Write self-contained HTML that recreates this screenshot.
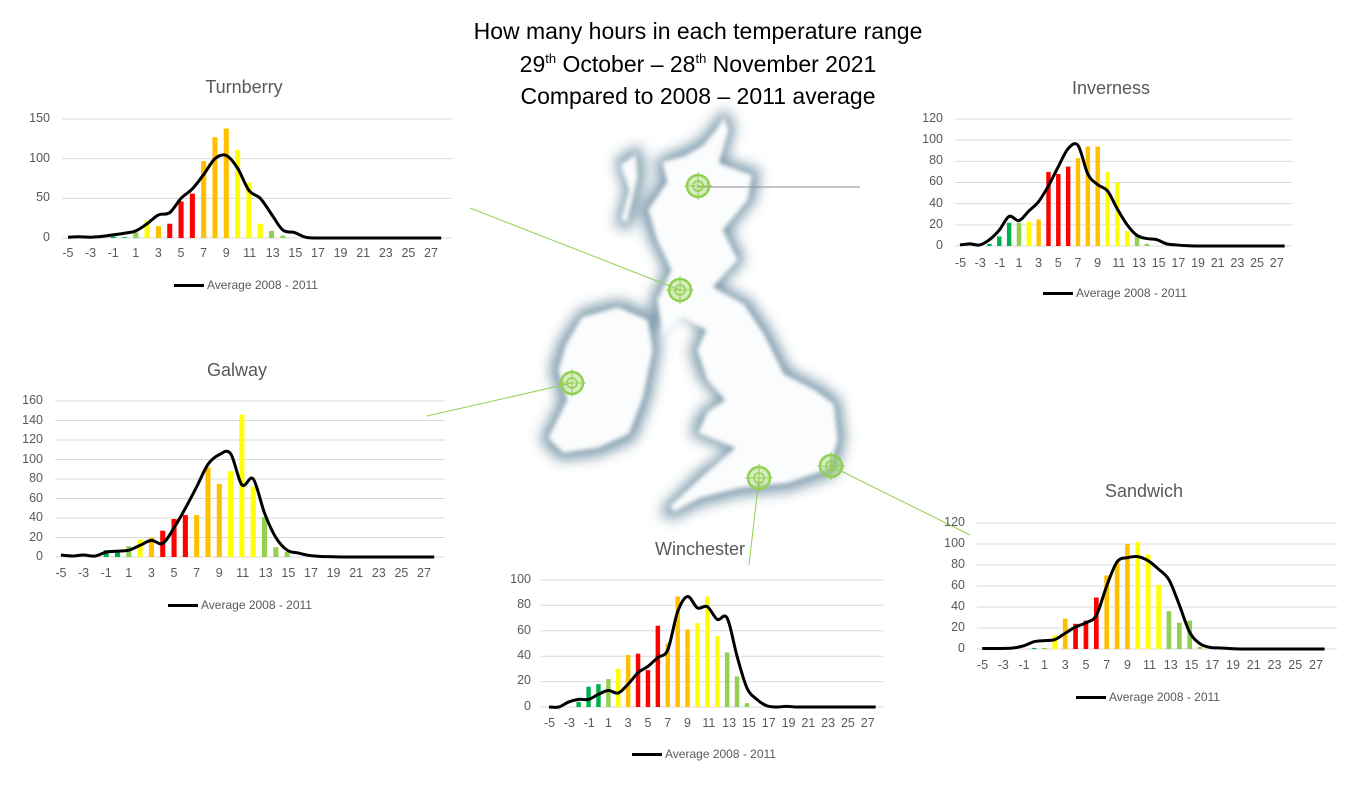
<!DOCTYPE html>
<html><head><meta charset="utf-8"><style>
body{margin:0;width:1356px;height:790px;background:#fff;position:relative;overflow:hidden;font-family:"Liberation Sans",sans-serif;}
.t{position:absolute;color:#000;font-size:23px;text-align:center;width:600px;left:398px;line-height:32.5px;top:15px}
.t sup{font-size:13px;line-height:0;vertical-align:9px}
.ct{position:absolute;color:#595959;font-size:18px;transform:translateX(-50%);white-space:nowrap}
.xr{position:absolute;display:flex;font-size:12.5px;color:#595959}
.xr span{box-sizing:border-box;width:calc(var(--w)*2);padding-right:var(--w);text-align:center;white-space:nowrap}
.yl{position:absolute;font-size:12.5px;color:#595959;text-align:right;width:40px}
.lg{position:absolute;font-size:12px;color:#595959;white-space:nowrap;transform:translateX(-50%)}
.lg i{display:inline-block;width:30px;height:3px;background:#000;vertical-align:middle;margin-right:3px}
svg{position:absolute;left:0;top:0}
</style></head><body>
<svg id="s" width="1356" height="790">
<defs><filter id="bl" x="-20%" y="-20%" width="140%" height="140%"><feGaussianBlur stdDeviation="7"/></filter>
<filter id="bl2"><feGaussianBlur stdDeviation="2"/></filter></defs>
<g id="map">
<g filter="url(#bl)" fill="#5d8196" opacity="0.85">
<path id="gb" d="M700,140 L712,125 L725,108 L735,128 L725,160 L760,170 L755,200 L730,230 L745,260 L720,285 L750,300 L770,330 L790,370 L820,385 L840,400 L845,440 L835,475 L790,490 L740,495 L700,505 L670,520 L660,510 L700,470 L730,450 L690,435 L700,410 L720,400 L700,380 L690,350 L700,330 L680,310 L660,330 L650,300 L665,270 L650,240 L640,210 L660,180 L655,160 L680,150Z"/>
<path id="ir" d="M580,310 L620,300 L655,315 L660,350 L650,400 L635,440 L600,455 L560,460 L540,440 L560,400 L550,370 L560,340Z"/>
<path id="hb" d="M615,160 L640,145 L645,175 L630,230 L615,225 L625,190Z"/>
</g>
<g fill="#fafcfd" filter="url(#bl2)">
<path d="M702,146 L714,132 L724,118 L729,130 L719,163 L752,175 L748,200 L723,230 L738,260 L713,287 L744,304 L764,334 L784,374 L815,390 L834,404 L838,440 L829,469 L788,483 L740,488 L700,498 L674,512 L670,506 L707,472 L735,448 L698,433 L707,412 L725,400 L707,380 L697,350 L706,330 L682,318 L663,335 L657,300 L671,270 L657,240 L648,210 L667,182 L662,162 L684,156Z"/>
<path d="M582,317 L618,307 L648,320 L653,350 L643,398 L629,434 L598,448 L563,453 L548,438 L567,400 L558,370 L566,344Z"/>
<path d="M620,165 L636,154 L638,176 L627,222 L621,220 L629,190Z"/>
</g>
</g>
<g stroke-width="1">
<line x1="470" y1="208" x2="680" y2="290" stroke="#92d050"/>
<line x1="698" y1="187" x2="860" y2="187" stroke="#909090"/>
<line x1="427" y1="416" x2="572" y2="383" stroke="#92d050"/>
<line x1="759" y1="478" x2="749" y2="565" stroke="#92d050"/>
<line x1="831" y1="466" x2="970" y2="535" stroke="#92d050"/>
</g>
</svg>
<div class="t">How many hours in each temperature range<br>29<sup>th</sup> October – 28<sup>th</sup> November 2021<br>Compared to 2008 – 2011 average</div>

<div class="ct" style="left:244px;top:77px">Turnberry</div>
<div class="ct" style="left:1111px;top:78px">Inverness</div>
<div class="ct" style="left:237px;top:360px">Galway</div>
<div class="ct" style="left:700px;top:539px">Winchester</div>
<div class="ct" style="left:1144px;top:481px">Sandwich</div>

<div class="xr" style="--w:11.31px;left:62.3px;top:246px"><span>-5</span><span>-3</span><span>-1</span><span>1</span><span>3</span><span>5</span><span>7</span><span>9</span><span>11</span><span>13</span><span>15</span><span>17</span><span>19</span><span>21</span><span>23</span><span>25</span><span>27</span></div>
<div class="xr" style="--w:11.31px;left:55.3px;top:566px"><span>-5</span><span>-3</span><span>-1</span><span>1</span><span>3</span><span>5</span><span>7</span><span>9</span><span>11</span><span>13</span><span>15</span><span>17</span><span>19</span><span>21</span><span>23</span><span>25</span><span>27</span></div>
<div class="xr" style="--w:9.84px;left:955px;top:256px"><span>-5</span><span>-3</span><span>-1</span><span>1</span><span>3</span><span>5</span><span>7</span><span>9</span><span>11</span><span>13</span><span>15</span><span>17</span><span>19</span><span>21</span><span>23</span><span>25</span><span>27</span></div>
<div class="xr" style="--w:9.9px;left:544px;top:716px"><span>-5</span><span>-3</span><span>-1</span><span>1</span><span>3</span><span>5</span><span>7</span><span>9</span><span>11</span><span>13</span><span>15</span><span>17</span><span>19</span><span>21</span><span>23</span><span>25</span><span>27</span></div>
<div class="xr" style="--w:10.375px;left:977px;top:658px"><span>-5</span><span>-3</span><span>-1</span><span>1</span><span>3</span><span>5</span><span>7</span><span>9</span><span>11</span><span>13</span><span>15</span><span>17</span><span>19</span><span>21</span><span>23</span><span>25</span><span>27</span></div>

<div class="yl" style="left:10px;top:111px">150</div><div class="yl" style="left:10px;top:151px">100</div><div class="yl" style="left:10px;top:190px">50</div><div class="yl" style="left:10px;top:230px">0</div>
<div class="yl" style="left:3px;top:393px">160</div><div class="yl" style="left:3px;top:413px">140</div><div class="yl" style="left:3px;top:432px">120</div><div class="yl" style="left:3px;top:452px">100</div><div class="yl" style="left:3px;top:471px">80</div><div class="yl" style="left:3px;top:491px">60</div><div class="yl" style="left:3px;top:510px">40</div><div class="yl" style="left:3px;top:530px">20</div><div class="yl" style="left:3px;top:549px">0</div>
<div class="yl" style="left:903px;top:111px">120</div><div class="yl" style="left:903px;top:132px">100</div><div class="yl" style="left:903px;top:153px">80</div><div class="yl" style="left:903px;top:174px">60</div><div class="yl" style="left:903px;top:196px">40</div><div class="yl" style="left:903px;top:217px">20</div><div class="yl" style="left:903px;top:238px">0</div>
<div class="yl" style="left:491px;top:572px">100</div><div class="yl" style="left:491px;top:597px">80</div><div class="yl" style="left:491px;top:623px">60</div><div class="yl" style="left:491px;top:648px">40</div><div class="yl" style="left:491px;top:673px">20</div><div class="yl" style="left:491px;top:699px">0</div>
<div class="yl" style="left:925px;top:515px">120</div><div class="yl" style="left:925px;top:536px">100</div><div class="yl" style="left:925px;top:557px">80</div><div class="yl" style="left:925px;top:578px">60</div><div class="yl" style="left:925px;top:599px">40</div><div class="yl" style="left:925px;top:620px">20</div><div class="yl" style="left:925px;top:641px">0</div>

<div class="lg" style="left:246px;top:278px"><i></i>Average 2008 - 2011</div>
<div class="lg" style="left:240px;top:598px"><i></i>Average 2008 - 2011</div>
<div class="lg" style="left:1115px;top:286px"><i></i>Average 2008 - 2011</div>
<div class="lg" style="left:704px;top:747px"><i></i>Average 2008 - 2011</div>
<div class="lg" style="left:1148px;top:690px"><i></i>Average 2008 - 2011</div>

<script>
var DG="#00b050",LG="#92d050",Y="#ffff00",O="#ffc000",R="#ff0000";
var C=[
{L:62.3,w:11.31,y0:238,ppu:119/150,gmax:150,gs:50,gx1:62,gx2:452,
 bars:{"-1":[2,DG],"0":[1,DG],"1":[7,LG],"2":[22,Y],"3":[15,O],"4":[18,R],"5":[46,R],"6":[56,R],"7":[97,O],"8":[127,O],"9":[138,O],"10":[111,Y],"11":[70,Y],"12":[18,Y],"13":[9,LG],"14":[3,LG]},
 line:[1,1.5,1,2,4,6,9,18,29,32,50,62,80,100,104,88,60,50,30,10,7,1]},
{L:55.3,w:11.31,y0:557,ppu:156/160,gmax:160,gs:20,gx1:55,gx2:445,
 bars:{"-1":[7,DG],"0":[5,DG],"1":[11,LG],"2":[18,Y],"3":[20,O],"4":[27,R],"5":[39,R],"6":[43,R],"7":[43,O],"8":[92,O],"9":[75,O],"10":[88,Y],"11":[146,Y],"12":[72,Y],"13":[41,LG],"14":[10,LG],"15":[5,LG]},
 line:[2,1,2,1,5,6,7,12,17,14,30,50,72,95,105,106,74,80,45,20,7,4,1.5,0.5,0.3]},
{L:955,w:9.84,y0:246,ppu:127/120,gmax:120,gs:20,gx1:955,gx2:1292,
 bars:{"-2":[2,DG],"-1":[9,DG],"0":[22,DG],"1":[22,LG],"2":[23,Y],"3":[25,O],"4":[70,R],"5":[68,R],"6":[75,R],"7":[83,O],"8":[94,O],"9":[94,O],"10":[70,Y],"11":[60,Y],"12":[14,Y],"13":[10,LG],"14":[2,LG]},
 line:[1,2,1,6,15,28,24,33,42,57,75,92,95,68,58,52,35,20,10,7,6,2,1,0.3]},
{L:544,w:9.9,y0:707,ppu:127/100,gmax:100,gs:20,gx1:541,gx2:883,
 bars:{"-2":[4,DG],"-1":[16,DG],"0":[18,DG],"1":[22,LG],"2":[30,Y],"3":[41,O],"4":[42,R],"5":[29,R],"6":[64,R],"7":[50,O],"8":[87,O],"9":[61,O],"10":[66,Y],"11":[87,Y],"12":[56,Y],"13":[43,LG],"14":[24,LG],"15":[3,LG]},
 line:[0,0,4,6,6,10,13,11,18,27,32,39,45,75,87,78,79,69,70,40,15,6,1,0,0.5,0]},
{L:977,w:10.375,y0:649,ppu:126/120,gmax:120,gs:20,gx1:977,gx2:1337,
 bars:{"0":[1,DG],"1":[1,LG],"2":[13,Y],"3":[29,O],"4":[24,R],"5":[27,R],"6":[49,R],"7":[70,O],"8":[83,O],"9":[100,O],"10":[102,Y],"11":[90,Y],"12":[61,Y],"13":[36,LG],"14":[25,LG],"15":[27,LG],"16":[2,LG]},
 line:[0.5,0.5,0.5,1,3,7,8,9,15,21,25,32,60,83,87,88,84,76,66,42,16,5,1.5,1,0.3]}
];
var s=document.getElementById("s"),h="";
C.forEach(function(c){
 for(var v=0;v<=c.gmax;v+=c.gs){var y=c.y0-v*c.ppu;h+='<line x1="'+c.gx1+'" x2="'+c.gx2+'" y1="'+y+'" y2="'+y+'" stroke="#d9d9d9" stroke-width="1"/>';}
 var bw=c.w*0.45;
 for(var k in c.bars){var t=+k,b=c.bars[k];var cx=c.L+(t+5+0.5)*c.w;var bh=b[0]*c.ppu;
  h+='<rect x="'+(cx-bw/2)+'" y="'+(c.y0-bh)+'" width="'+bw+'" height="'+bh+'" fill="'+b[1]+'"/>';}
 var pts=[];for(var i=0;i<34;i++){var v=i<c.line.length?c.line[i]:0;pts.push([c.L+(i+0.5)*c.w,c.y0-v*c.ppu]);}
 var d="M"+pts[0][0]+","+pts[0][1];
 for(var i=0;i<pts.length-1;i++){var p0=pts[Math.max(0,i-1)],p1=pts[i],p2=pts[i+1],p3=pts[Math.min(pts.length-1,i+2)];
  d+=" C"+(p1[0]+(p2[0]-p0[0])/6)+","+(p1[1]+(p2[1]-p0[1])/6)+" "+(p2[0]-(p3[0]-p1[0])/6)+","+(p2[1]-(p3[1]-p1[1])/6)+" "+p2[0]+","+p2[1];}
 h+='<path d="'+d+'" fill="none" stroke="#000" stroke-width="3" stroke-linejoin="round"/>';
});
[[698,186],[680,290],[572,383],[759,478],[831,466]].forEach(function(p){
 h+='<circle cx="'+p[0]+'" cy="'+p[1]+'" r="11" fill="rgba(146,208,80,0.35)" stroke="#92d050" stroke-width="2.5"/><circle cx="'+p[0]+'" cy="'+p[1]+'" r="5" fill="none" stroke="#92d050" stroke-width="1.5"/><line x1="'+(p[0]-14)+'" x2="'+(p[0]+14)+'" y1="'+p[1]+'" y2="'+p[1]+'" stroke="#92d050" stroke-width="1"/><line y1="'+(p[1]-14)+'" y2="'+(p[1]+14)+'" x1="'+p[0]+'" x2="'+p[0]+'" stroke="#92d050" stroke-width="1"/>';
});
s.insertAdjacentHTML("beforeend",h);
</script>
</body></html>
